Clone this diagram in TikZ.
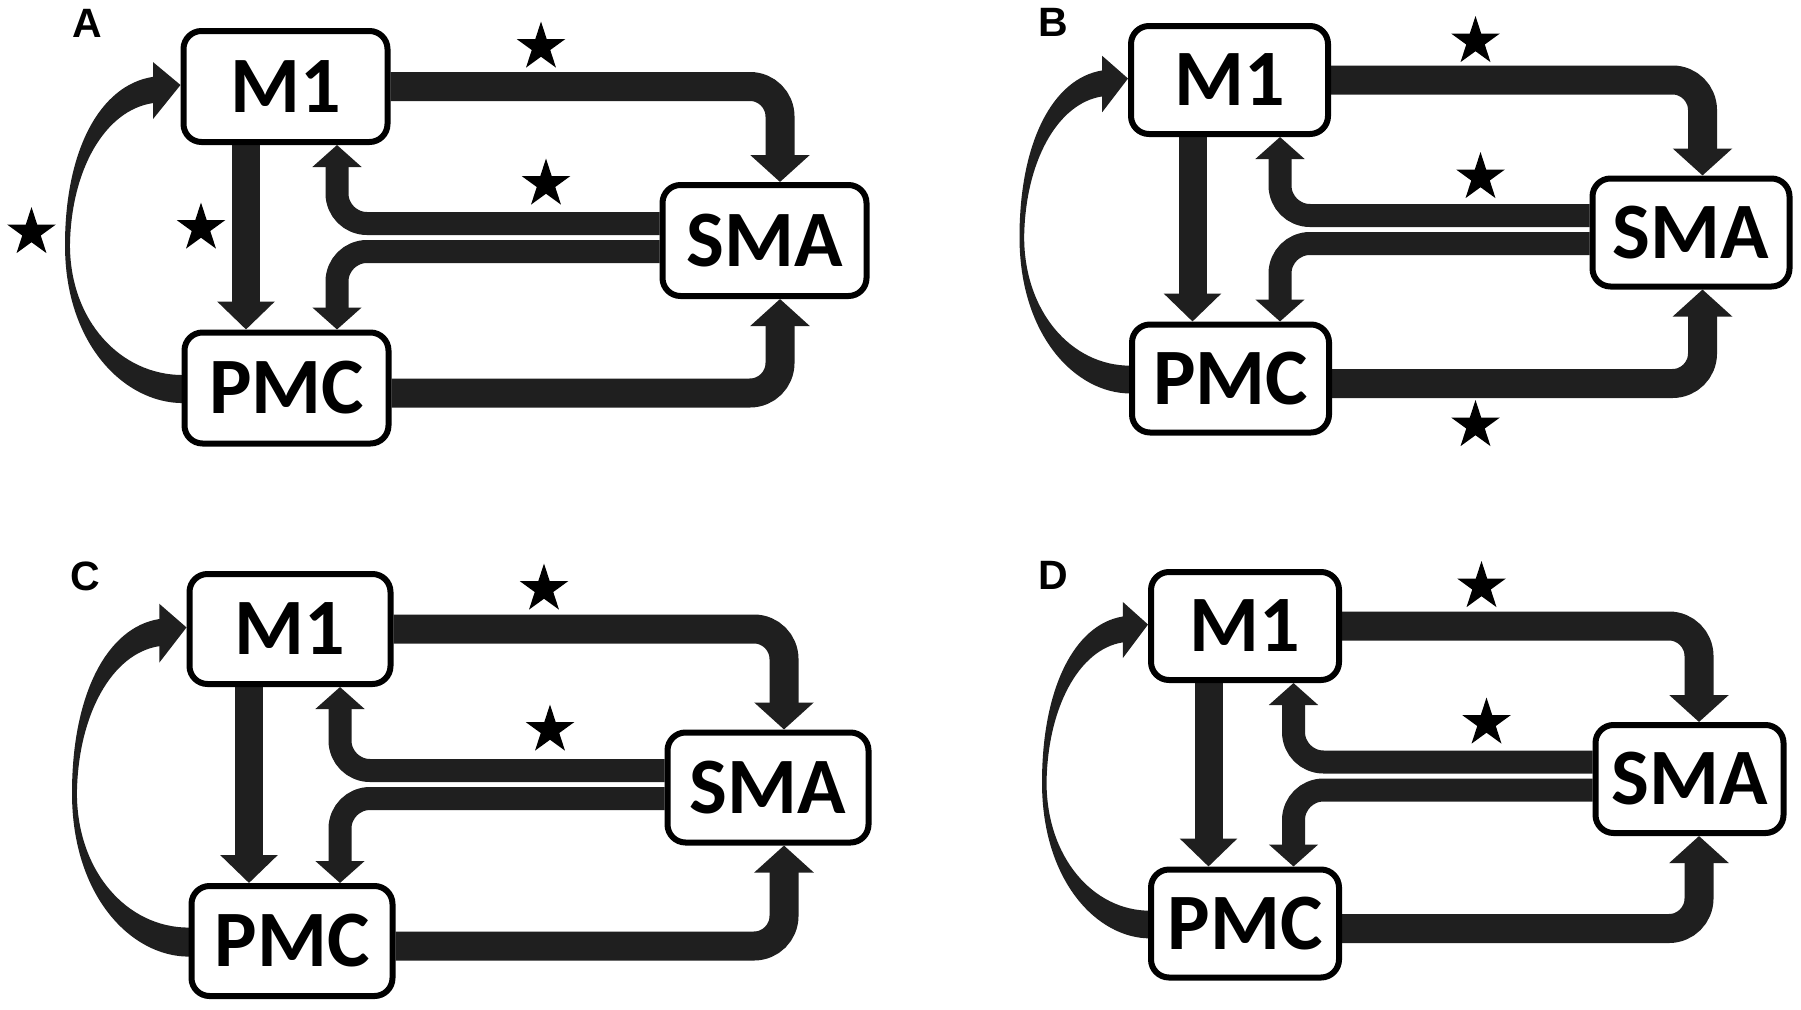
\documentclass[tikz,border=0pt]{standalone}
\usepackage{fontspec}
\setmainfont{Carlito}
\newfontfamily\labfont{Liberation Sans}
\usetikzlibrary{arrows.meta,shapes.geometric,calc}
\pgfdeclarelayer{bg}
\pgfsetlayers{bg,main}

\tikzset{
  box/.style={draw=black, line width=6pt, rounded corners=18pt, fill=white, inner sep=0pt,
    font=\bfseries\fontsize{80}{80}\selectfont},
  band/.style={draw=black!88, rounded corners=30pt},
  bigarrow/.style={band, line width=29pt, -{Triangle[width=58pt,length=27pt]}},
  midarrow/.style={band, line width=23pt, -{Triangle[width=48pt,length=22pt]}},
  vertarrow/.style={band, line width=28pt, -{Triangle[width=56pt,length=28pt]}},
  crescent/.style={fill=black!88},
  panellabel/.style={font=\labfont\bfseries\fontsize{41}{41}\selectfont, inner sep=0pt},
  starmark/.style={star, star points=5, star point ratio=2.618, minimum size=51pt,
    inner sep=0pt, fill=black, draw=none},
}

\newcommand\drawpanel[1]{%
  \node[panellabel] (#1lab) at (\LBx,\LBy) {\PL};
  \node[box, minimum width=\W pt, minimum height=\H pt] (#1m1) at (\Mx,\My) {M1};
  \node[box, minimum width=\W pt, minimum height=\H pt] (#1pmc) at (\Px,\Py) {PMC};
  \node[box, minimum width=\W pt, minimum height=\H pt] (#1sma) at (\Sx,\Sy) {SMA};
  \coordinate (#1rx) at (\RX,\Sy);
  \coordinate (#1cx) at (\CX,\Sy);
  \coordinate (#1lx) at (\LX,\My);
  \begin{pgfonlayer}{bg}
    \draw[bigarrow] (#1m1.east) -| (#1rx |- #1sma.north);
    \draw[bigarrow] ($(#1pmc.east)+(0,5)$) -| (#1rx |- #1sma.south);
    \draw[midarrow] ($(#1sma.west)+(0,-17)$) -| (#1cx |- #1m1.south);
    \draw[midarrow] ($(#1sma.west)+(0,11)$) -| (#1cx |- #1pmc.north);
    \draw[vertarrow] (#1lx |- #1m1.south) -- (#1lx |- #1pmc.north);
    % curved arrow PMC -> M1, drawn as a crescent in a frame fixed to M1.west
    \begin{scope}[shift={(#1m1.west)}, xscale=-\CW, yscale=\CH]
      \fill[crescent]
        (-0.02,1.050) .. controls (0.481,1.050) and (1.0,0.857) .. (1.0,0.526)
        .. controls (1.0,0.211) and (0.697,-0.005) .. (0.238,-0.032)
        -- (0.238,-0.081) -- (0,-0.005) -- (0.238,0.108) -- (0.238,0.055)
        .. controls (0.654,0.078) and (0.948,0.277) .. (0.957,0.526)
        .. controls (0.957,0.775) and (0.524,0.957) .. (-0.02,0.957)
        -- cycle;
    \end{scope}
  \end{pgfonlayer}
}

\begin{document}
\begin{tikzpicture}[x=1pt, y=-1pt]
  \begin{pgfonlayer}{bg}
    \fill[white] (0,0) rectangle (1801,1009);
  \end{pgfonlayer}
  \path[use as bounding box] (0,0) rectangle (1801,1009);

  % Panel A
  \def\PL{A}\def\LBx{87}\def\LBy{23}
  \def\Mx{285.5}\def\My{86.5}\def\Px{286.5}\def\Py{388}\def\Sx{764.5}\def\Sy{240.5}
  \def\W{204}\def\H{111}\def\RX{780}\def\LX{246}\def\CX{337}\def\CW{115.5}\def\CH{301.5}
  \drawpanel{a}
  \node[starmark] (sa1) at (541,47) {};
  \node[starmark] (sa2) at (546,184) {};
  \node[starmark] (sa3) at (201,228) {};
  \node[starmark] (sa4) at (31.5,232.5) {};

  % Panel B
  \def\PL{B}\def\LBx{1053}\def\LBy{22}
  \def\Mx{1229.5}\def\My{80}\def\Px{1230.5}\def\Py{378.5}\def\Sx{1691}\def\Sy{232.5}
  \def\W{197}\def\H{108}\def\RX{1702.5}\def\LX{1192.5}\def\CX{1280}\def\CW{108.5}\def\CH{298.5}
  \drawpanel{b}
  \node[starmark] (sb1) at (1475.5,41.5) {};
  \node[starmark] (sb2) at (1480.5,177.5) {};
  \node[starmark] (sb3) at (1475.5,425.5) {};

  % Panel C
  \def\PL{C}\def\LBx{85}\def\LBy{576}
  \def\Mx{290}\def\My{629}\def\Px{292}\def\Py{941}\def\Sx{768}\def\Sy{787.5}
  \def\W{201}\def\H{110}\def\RX{784}\def\LX{249}\def\CX{340}\def\CW{114.5}\def\CH{312}
  \drawpanel{c}
  \node[starmark] (sc1) at (544,589) {};
  \node[starmark] (sc2) at (550,730) {};

  % Panel D
  \def\PL{D}\def\LBx{1053}\def\LBy{575}
  \def\Mx{1245}\def\My{626}\def\Px{1245}\def\Py{923.5}\def\Sx{1689.5}\def\Sy{779}
  \def\W{188}\def\H{108}\def\RX{1699}\def\LX{1208.5}\def\CX{1293.5}\def\CW{106}\def\CH{297.5}
  \drawpanel{d}
  \node[starmark] (sd1) at (1481.5,586.5) {};
  \node[starmark] (sd2) at (1486.5,723) {};
\end{tikzpicture}
\end{document}
